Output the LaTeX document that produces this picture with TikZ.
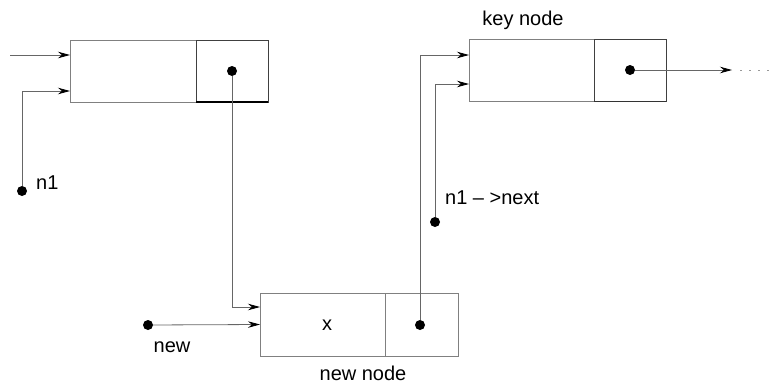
\documentclass[tikz,border=0pt]{standalone}
\usepackage{fontspec}
\setmainfont{Liberation Sans}
\usetikzlibrary{arrows.meta}
\begin{document}
\begin{tikzpicture}[x=1pt,y=-1pt,
  cell/.style={draw=black!50, line width=0.8pt, inner sep=0pt, outer sep=0pt},
  dot/.style={circle, fill=black, inner sep=0pt, minimum size=10pt},
  wire/.style={draw=black!60, line width=0.8pt},
  link/.style={wire, -{Stealth[length=12pt,width=6.5pt,black]}},
  lbl/.style={font=\fontsize{20}{24}\selectfont, inner sep=0pt}]
\useasboundingbox (0,0) rectangle (778,383);

% first list node
\node[cell, minimum width=126pt, minimum height=62pt] (d1) at (133,71) {};
\node[cell, draw=black!75, minimum width=72pt, minimum height=62pt] (p1) at (232,71) {};
\draw[line width=1.8pt] (p1.south west) -- (p1.south east);

% key node
\node[cell, minimum width=125pt, minimum height=62pt] (dk) at (531.5,70.5) {};
\node[cell, draw=black!75, minimum width=72pt, minimum height=62pt] (pk) at (630,70.5) {};
\draw[line width=1.2pt, black!80] (pk.south west) -- (pk.south east);
\node[lbl] (klbl) at (523,20) {key node};

% new node
\node[cell, minimum width=125pt, minimum height=63pt] (dn) at (322.5,324.5) {};
\node[cell, minimum width=73pt, minimum height=63pt] (pn) at (421.5,324.5) {};
\node[lbl] (xval) at (327,325) {x};
\node[lbl] (nlbl) at (363,373) {new node};

% pointer dots
\node[dot] (p1dot) at (232,71) {};
\node[dot] (pkdot) at (630,70) {};
\node[dot] (pndot) at (420,325) {};
\node[dot] (n1dot) at (22,191) {};
\node[dot] (nextdot) at (435,222) {};
\node[dot] (newdot) at (148,325) {};

% labels of the pointer variables
\node[lbl, anchor=west] (n1lbl) at (36,183) {n1};
\node[lbl, anchor=west] (nxlbl) at (445,198) {n1 – >next};
\node[lbl] (newlbl) at (172,347) {new};

% connector end points
\coordinate (in1) at (10,55);
\coordinate (e1a) at (70,55);
\coordinate (e1b) at (70,91);
\coordinate (e3a) at (260,307);
\coordinate (ek1) at (469,55);
\coordinate (ek2) at (469,84);
\coordinate (out1) at (732,70);
\coordinate (out2) at (772,70);

% connectors
\draw[link] (in1) -- (e1a);
\draw[link] (n1dot) |- (e1b);
\draw[link] (p1dot) |- (e3a);
\draw[link] (newdot) -- (dn.west);
\draw[link] (pndot) |- (ek1);
\draw[link] (nextdot) |- (ek2);
\draw[link] (pkdot) -- (out1);
\draw[wire, black!40, dash pattern=on 2pt off 7pt] (out1) ++(8,0) -- (out2);
\end{tikzpicture}
\end{document}
